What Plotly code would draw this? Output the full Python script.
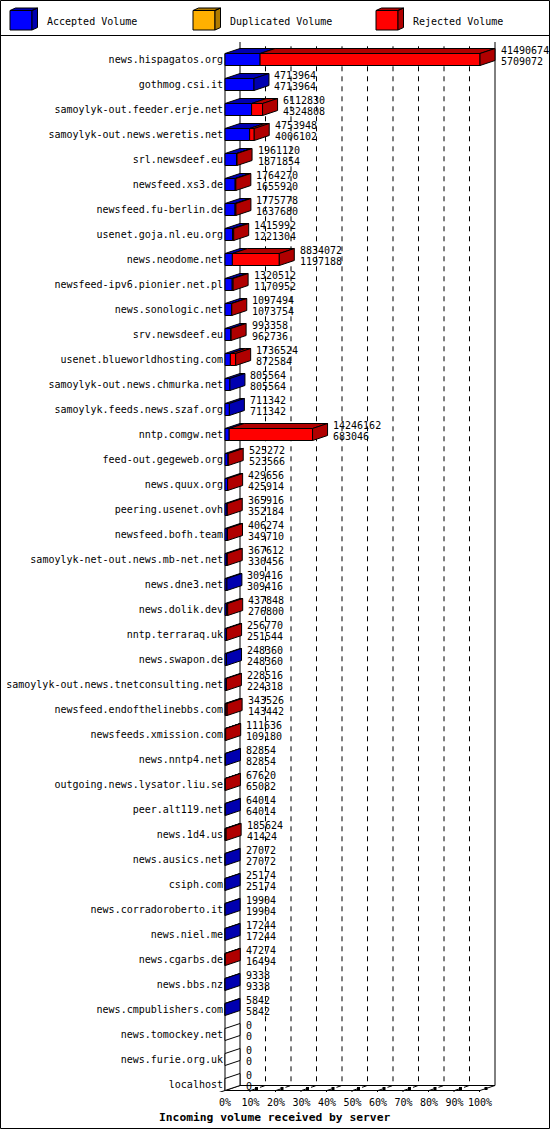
import plotly.graph_objects as go

# ---------------- data ----------------
SERVERS = [
    "news.hispagatos.org", "gothmog.csi.it", "samoylyk-out.feeder.erje.net",
    "samoylyk-out.news.weretis.net", "srl.newsdeef.eu", "newsfeed.xs3.de",
    "newsfeed.fu-berlin.de", "usenet.goja.nl.eu.org", "news.neodome.net",
    "newsfeed-ipv6.pionier.net.pl", "news.sonologic.net", "srv.newsdeef.eu",
    "usenet.blueworldhosting.com", "samoylyk-out.news.chmurka.net",
    "samoylyk.feeds.news.szaf.org", "nntp.comgw.net", "feed-out.gegeweb.org",
    "news.quux.org", "peering.usenet.ovh", "newsfeed.bofh.team",
    "samoylyk-net-out.news.mb-net.net", "news.dne3.net", "news.dolik.dev",
    "nntp.terraraq.uk", "news.swapon.de", "samoylyk-out.news.tnetconsulting.net",
    "newsfeed.endofthelinebbs.com", "newsfeeds.xmission.com", "news.nntp4.net",
    "outgoing.news.lysator.liu.se", "peer.alt119.net", "news.1d4.us",
    "news.ausics.net", "csiph.com", "news.corradoroberto.it", "news.niel.me",
    "news.cgarbs.de", "news.bbs.nz", "news.cmpublishers.com",
    "news.tomockey.net", "news.furie.org.uk", "localhost",
]
TOTAL_VOLUME = [
    41490674, 4713964, 6112830, 4753948, 1961120, 1764270, 1775778, 1415992,
    8834072, 1320512, 1097494, 993358, 1736524, 805564, 711342, 14246162,
    525272, 429656, 365916, 406274, 367612, 309416, 437848, 256770, 248360,
    228516, 343526, 111636, 82854, 67620, 64014, 185624, 27072, 25174, 19904,
    17244, 47274, 9338, 5842, 0, 0, 0,
]
ACCEPTED_VOLUME = [
    5709072, 4713964, 4324808, 4006102, 1871854, 1655920, 1637680, 1221304,
    1197188, 1170952, 1073754, 962736, 872584, 805564, 711342, 683046,
    523566, 425914, 352184, 349710, 330456, 309416, 276800, 251544, 248360,
    224318, 143442, 109180, 82854, 65082, 64014, 41424, 27072, 25174, 19904,
    17244, 16494, 9338, 5842, 0, 0, 0,
]
DUPLICATED_VOLUME = [
    0, 0, 0, 0, 0, 0, 0, 0, 0, 0, 0, 0, 0, 0, 0, 0, 0, 0, 0, 0, 0,
    0, 0, 0, 0, 0, 0, 0, 0, 0, 0, 0, 0, 0, 0, 0, 0, 0, 0, 0, 0, 0,
]
SERIES_NAMES = ["Accepted Volume", "Duplicated Volume", "Rejected Volume"]
X_TICKS = [0, 10, 20, 30, 40, 50, 60, 70, 80, 90, 100]
X_TICK_LABELS = ["0%", "10%", "20%", "30%", "40%", "50%", "60%", "70%", "80%", "90%", "100%"]
TITLE = "Incoming volume received by server"

# ---------------- style / geometry ----------------
W, H = 550, 1130
FONT = "DejaVu Sans Mono"
FRONT = ["#0000ff", "#ffb000", "#ff0000"]
DARK = ["#0000b0", "#b07b00", "#b00000"]

X0_PX, PX_PER_PCT = 225.0, 2.55
ROW0_PX, ROW_PX = 59.5, 25.0
DX = 15 / PX_PER_PCT
DY = 5 / ROW_PX
HB = 6 / ROW_PX
XDOM_PX = (200, 500)
YDOM_PX = (40, 1092)


def px2pct(px):
    return (px - X0_PX) / PX_PER_PCT


def px2row(py):
    return (py - ROW0_PX) / ROW_PX


n = len(SERVERS)
rejected = [t - a - d for t, a, d in zip(TOTAL_VOLUME, ACCEPTED_VOLUME, DUPLICATED_VOLUME)]
vmax = max(TOTAL_VOLUME)
series = [ACCEPTED_VOLUME, DUPLICATED_VOLUME, rejected]

y_front = (n - 1) + HB
y_back = y_front - DY
y_top = px2row(42)

fig = go.Figure()

# dashed grid lines: floor diagonal + back wall vertical
gx, gy = [], []
for p in X_TICKS[1:-1]:
    gx += [p, p + DX, p + DX, None]
    gy += [y_front, y_back, y_top, None]
fig.add_trace(go.Scatter(x=gx, y=gy, mode="lines",
                         line=dict(color="black", width=1, dash="5px,5px"),
                         hoverinfo="skip", showlegend=False))

# walls and floor
wx = [DX, DX, None, 100 + DX, 100 + DX, None, 0, 0, None,
      0, 100, None, DX, 100 + DX, None, 100, 100 + DX, None, -DX, DX, None]
wy = [y_top, y_back, None, y_top, y_back, None, -HB, y_front, None,
      y_front, y_front, None, y_back, y_back, None, y_front, y_back, None,
      y_front + DY, y_back, None]
for p in X_TICKS[1:]:
    wx += [p - 2 / PX_PER_PCT, p, None]
    wy += [y_front + 4 / ROW_PX, y_front, None]
fig.add_trace(go.Scatter(x=wx, y=wy, mode="lines", line=dict(color="black", width=1),
                         hoverinfo="skip", showlegend=False))
fig.add_trace(go.Scatter(x=[p + 6 / PX_PER_PCT for p in X_TICKS[1:]],
                         y=[y_front - 2 / ROW_PX] * (len(X_TICKS) - 1), mode="markers",
                         marker=dict(symbol="square", size=3, color="black"),
                         hoverinfo="skip", showlegend=False))

# bar faces
front = [([], []) for _ in range(3)]
top = [([], []) for _ in range(3)]
side = [([], []) for _ in range(4)]  # index 3 = empty (white)
for i in range(n):
    a = 0.0
    last = 3
    yt, yb = i - HB, i + HB
    for s in range(3):
        v = series[s][i] / vmax * 100
        if v <= 0:
            continue
        b = a + v
        fx, fy = front[s]
        fx += [a, b, b, a, a, None]
        fy += [yt, yt, yb, yb, yt, None]
        tx, ty = top[s]
        tx += [a, b, b + DX, a + DX, a, None]
        ty += [yt, yt, yt - DY, yt - DY, yt, None]
        a = b
        last = s
    sx, sy = side[last]
    sx += [a, a + DX, a + DX, a, a, None]
    sy += [yt, yt - DY, yb - DY, yb, yt, None]

for s in range(3):
    for (xs, ys), col in ((front[s], FRONT[s]), (top[s], DARK[s])):
        if xs:
            fig.add_trace(go.Scatter(x=xs, y=ys, mode="lines", fill="toself", fillcolor=col,
                                     line=dict(color="black", width=1),
                                     hoverinfo="skip", showlegend=False))
for s in range(4):
    xs, ys = side[s]
    if xs:
        fig.add_trace(go.Scatter(x=xs, y=ys, mode="lines", fill="toself",
                                 fillcolor=DARK[s] if s < 3 else "white",
                                 line=dict(color="black", width=1),
                                 hoverinfo="skip", showlegend=False))

annotations = []
tfont = dict(family=FONT, size=10, color="black")
for i in range(n):
    xe = TOTAL_VOLUME[i] / vmax * 100 + DX
    annotations.append(dict(x=xe, y=i, xref="x", yref="y", text=str(TOTAL_VOLUME[i]),
                            xanchor="left", yanchor="middle", xshift=3.5, yshift=9,
                            showarrow=False, font=tfont))
    annotations.append(dict(x=xe, y=i, xref="x", yref="y", text=str(ACCEPTED_VOLUME[i]),
                            xanchor="left", yanchor="middle", xshift=3.5, yshift=-1.5,
                            showarrow=False, font=tfont))

# ---------------- legend box / frame (pixel overlay) ----------------
fig.add_trace(go.Scatter(x=[0.5, 549.5, 549.5, 0.5, 0.5, None, 0.5, 549.5],
                         y=[0.5, 0.5, 1128.5, 1128.5, 0.5, None, 35.5, 35.5],
                         xaxis="x2", yaxis="y2", mode="lines",
                         line=dict(color="black", width=1), hoverinfo="skip", showlegend=False))
LEG_X = [10, 193, 376]
LEG_TX = [44.5, 227.5, 410.5]
for s in range(3):
    x0 = LEG_X[s]
    fig.add_trace(go.Scatter(x=[x0, x0 + 22, x0 + 22, x0, x0], y=[10.5, 10.5, 30, 30, 10.5],
                             xaxis="x2", yaxis="y2", mode="lines", fill="toself",
                             fillcolor=FRONT[s], line=dict(color="black", width=1),
                             hoverinfo="skip", showlegend=False))
    fig.add_trace(go.Scatter(x=[x0, x0 + 22, x0 + 27.5, x0 + 5.5, x0, None,
                                x0 + 22, x0 + 27.5, x0 + 27.5, x0 + 22, x0 + 22],
                             y=[10.5, 10.5, 8, 8, 10.5, None, 10.5, 8, 27.5, 30, 10.5],
                             xaxis="x2", yaxis="y2", mode="lines", fill="toself",
                             fillcolor=DARK[s], line=dict(color="black", width=1),
                             hoverinfo="skip", showlegend=False))
    annotations.append(dict(x=LEG_TX[s] / W, y=1 - 21 / H, xref="paper", yref="paper",
                            text=SERIES_NAMES[s], xanchor="left", yanchor="middle",
                            showarrow=False, font=tfont))

annotations.append(dict(x=274 / W, y=1 - 1117 / H, xref="paper", yref="paper",
                        text="<b>" + TITLE + "</b>", xanchor="center", yanchor="middle",
                        showarrow=False, font=dict(family=FONT, size=11.3, color="black")))

fig.update_layout(
    width=W, height=H,
    margin=dict(l=0, r=0, t=0, b=0, pad=0),
    paper_bgcolor="white", plot_bgcolor="rgba(0,0,0,0)",
    showlegend=False,
    hovermode=False,
    annotations=annotations,
    xaxis=dict(domain=[XDOM_PX[0] / W, XDOM_PX[1] / W],
               range=[px2pct(XDOM_PX[0]), px2pct(XDOM_PX[1])],
               tickvals=X_TICKS, ticktext=X_TICK_LABELS, ticks="",
               showgrid=False, zeroline=False, showline=False,
               tickfont=tfont, anchor="y", ticklabelstandoff=3, fixedrange=True),
    yaxis=dict(domain=[1 - YDOM_PX[1] / H, 1 - YDOM_PX[0] / H],
               range=[px2row(YDOM_PX[1]), px2row(YDOM_PX[0])],
               tickvals=list(range(n)), ticktext=SERVERS, ticks="",
               showgrid=False, zeroline=False, showline=False,
               tickfont=tfont, anchor="free", position=X0_PX / W,
               ticklabelstandoff=2, fixedrange=True),
    xaxis2=dict(domain=[0, 1], range=[0, W], visible=False, anchor="y2", fixedrange=True),
    yaxis2=dict(domain=[0, 1], range=[H, 0], visible=False, anchor="x2", fixedrange=True),
)

fig.write_html("out.html",
               config={"displayModeBar": False, "staticPlot": True},
               post_script="document.body.style.margin='0';document.body.style.padding='0';"
                           "document.documentElement.style.overflow='hidden';")
